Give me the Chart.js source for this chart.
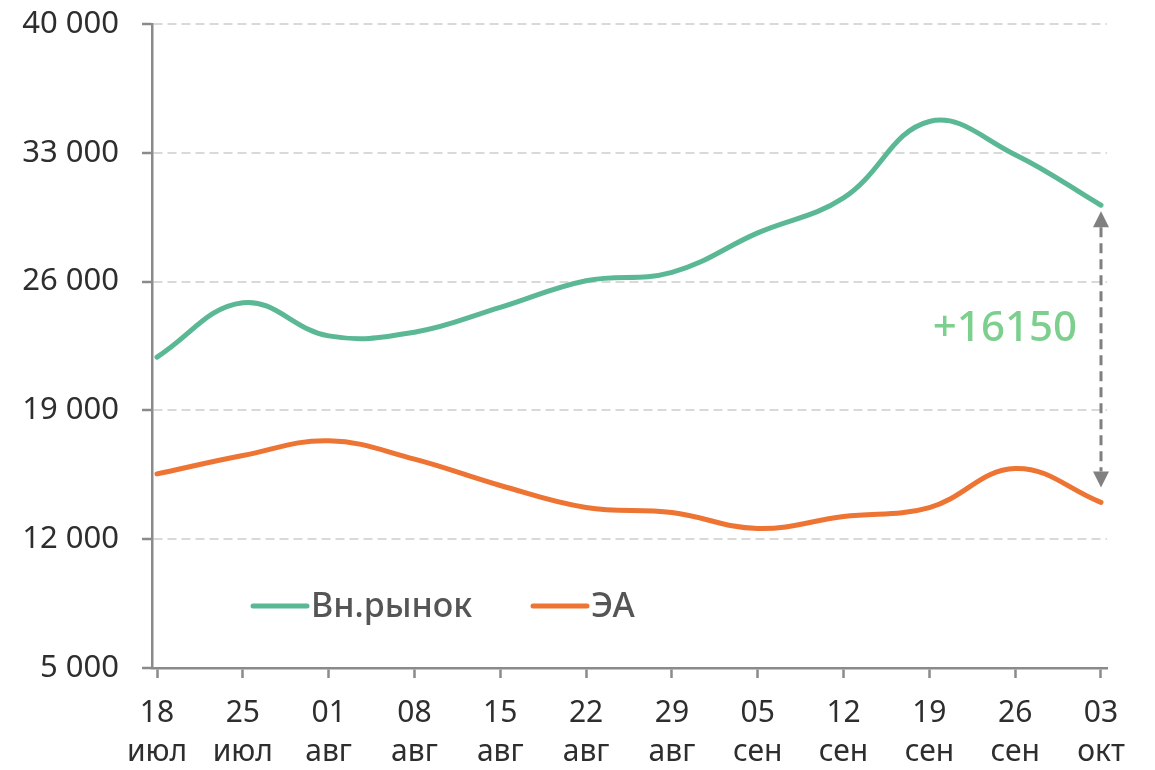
<!DOCTYPE html>
<html>
<head>
<meta charset="utf-8">
<script src="https://cdn.jsdelivr.net/npm/chart.js@4.4.1/dist/chart.umd.min.js"></script>
<style>
  html, body { margin: 0; padding: 0; background: #ffffff; }
  #wrap { position: relative; width: 1155px; height: 770px; }
  canvas { display: block; }
</style>
</head>
<body>
<div id="wrap"><canvas id="c" width="1155" height="770"></canvas></div>
<script>
// ---- Data ----
const dayLabels = ['18', '25', '01', '08', '15', '22', '29', '05', '12', '19', '26', '03'];
const monthLabels = ['июл', 'июл', 'авг', 'авг', 'авг', 'авг', 'авг', 'сен', 'сен', 'сен', 'сен', 'окт'];
const innerMarket = [21900, 24850, 23050, 23250, 24600, 26050, 26500, 28650, 30550, 34700, 32900, 30150];
const ea = [15550, 16550, 17350, 16350, 14920, 13720, 13450, 12580, 13230, 13720, 15840, 14000];
const seriesNames = ['Вн.рынок', 'ЭА'];
const yTicks = [5000, 12000, 19000, 26000, 33000, 40000];
const diffLabel = '+16150';

// ---- Styles ----
const GREEN = '#5bb895';
const ORANGE = '#ed7432';
const AXIS = '#8a8a8a';
const GRID = '#d9d9d9';
const TEXT = '#2e2e2e';
const FONT = '"Noto Sans", "DejaVu Sans", sans-serif';

const fmt = v => String(v).replace(/\B(?=(\d{3})+(?!\d))/g, ' ');

const toXY = arr => arr.map((v, i) => ({ x: i, y: v }));

const legendPlugin = {
  id: 'inlineLegend',
  afterDatasetsDraw(chart) {
    const { ctx, chartArea } = chart;
    const y = chartArea.bottom - 62;
    const items = [
      { x: chartArea.left + 101, color: chart.data.datasets[0].borderColor, text: chart.data.datasets[0].label },
      { x: chartArea.left + 381, color: chart.data.datasets[1].borderColor, text: chart.data.datasets[1].label }
    ];
    ctx.save();
    ctx.font = '500 34px ' + FONT;
    ctx.textBaseline = 'middle';
    ctx.textAlign = 'left';
    items.forEach(it => {
      ctx.strokeStyle = it.color;
      ctx.lineWidth = 5;
      ctx.lineCap = 'round';
      ctx.beginPath();
      ctx.moveTo(it.x, y);
      ctx.lineTo(it.x + 54, y);
      ctx.stroke();
      ctx.fillStyle = '#555555';
      ctx.fillText(it.text, it.x + 58, y + 1);
    });
    ctx.restore();
  }
};

const diffPlugin = {
  id: 'diffArrow',
  afterDatasetsDraw(chart) {
    const { ctx } = chart;
    const xs = chart.scales.x, ys = chart.scales.y;
    const last = innerMarket.length - 1;
    const x = xs.getPixelForValue(last);
    const yTop = ys.getPixelForValue(innerMarket[last]) + 6;
    const yBot = ys.getPixelForValue(ea[last]) - 15;
    const ah = 16, aw = 8;
    ctx.save();
    ctx.strokeStyle = '#808080';
    ctx.fillStyle = '#808080';
    ctx.lineWidth = 3;
    ctx.setLineDash([10, 6]);
    ctx.beginPath();
    ctx.moveTo(x, yTop + ah);
    ctx.lineTo(x, yBot - ah);
    ctx.stroke();
    ctx.setLineDash([]);
    ctx.beginPath();
    ctx.moveTo(x, yTop);
    ctx.lineTo(x - aw, yTop + ah);
    ctx.lineTo(x + aw, yTop + ah);
    ctx.closePath();
    ctx.fill();
    ctx.beginPath();
    ctx.moveTo(x, yBot);
    ctx.lineTo(x - aw, yBot - ah);
    ctx.lineTo(x + aw, yBot - ah);
    ctx.closePath();
    ctx.fill();
    ctx.font = '500 42px ' + FONT;
    ctx.fillStyle = '#7ccf8d';
    ctx.textAlign = 'right';
    ctx.textBaseline = 'middle';
    ctx.fillText(diffLabel, x - 24, (yTop + yBot) / 2 - 20);
    ctx.restore();
  }
};

new Chart(document.getElementById('c'), {
  type: 'line',
  data: {
    datasets: [
      { label: seriesNames[0], data: toXY(innerMarket), borderColor: GREEN, backgroundColor: GREEN,
        borderWidth: 5, pointRadius: 0, tension: 0.4, fill: false, borderCapStyle: 'round' },
      { label: seriesNames[1], data: toXY(ea), borderColor: ORANGE, backgroundColor: ORANGE,
        borderWidth: 5, pointRadius: 0, tension: 0.4, fill: false, borderCapStyle: 'round' }
    ]
  },
  options: {
    responsive: false,
    animation: false,
    layout: { padding: { top: 24, right: 48, left: 0, bottom: 0 } },
    plugins: { legend: { display: false }, tooltip: { enabled: false } },
    scales: {
      x: {
        type: 'linear',
        min: -0.0583,
        max: 11.07,
        afterFit: s => { s.height = 102; },
        ticks: {
          stepSize: 1,
          includeBounds: false,
          autoSkip: false,
          maxRotation: 0,
          padding: 16,
          color: TEXT,
          font: { family: FONT, size: 30, lineHeight: 1.3 },
          callback: v => Number.isInteger(v) && v >= 0 && v < dayLabels.length ? [dayLabels[v], monthLabels[v]] : ''
        },
        grid: { drawOnChartArea: false, drawTicks: true, tickLength: 10, tickColor: AXIS, tickWidth: 2.5 },
        border: { display: true, color: AXIS, width: 2.5 }
      },
      y: {
        min: 5000,
        max: 40000,
        afterFit: s => { s.width = 152; s.paddingTop = 0; s.paddingBottom = 0; },
        afterBuildTicks: s => { s.ticks = yTicks.map(v => ({ value: v })); },
        ticks: {
          padding: 23,
          color: TEXT,
          font: { family: FONT, size: 31 },
          callback: v => fmt(v)
        },
        grid: { color: GRID, lineWidth: 2, drawTicks: true, tickLength: 10, tickColor: AXIS, tickWidth: 2.5 },
        border: { display: true, color: AXIS, width: 2.5, dash: [9, 5] }
      }
    }
  },
  plugins: [legendPlugin, diffPlugin]
});
</script>
</body>
</html>
